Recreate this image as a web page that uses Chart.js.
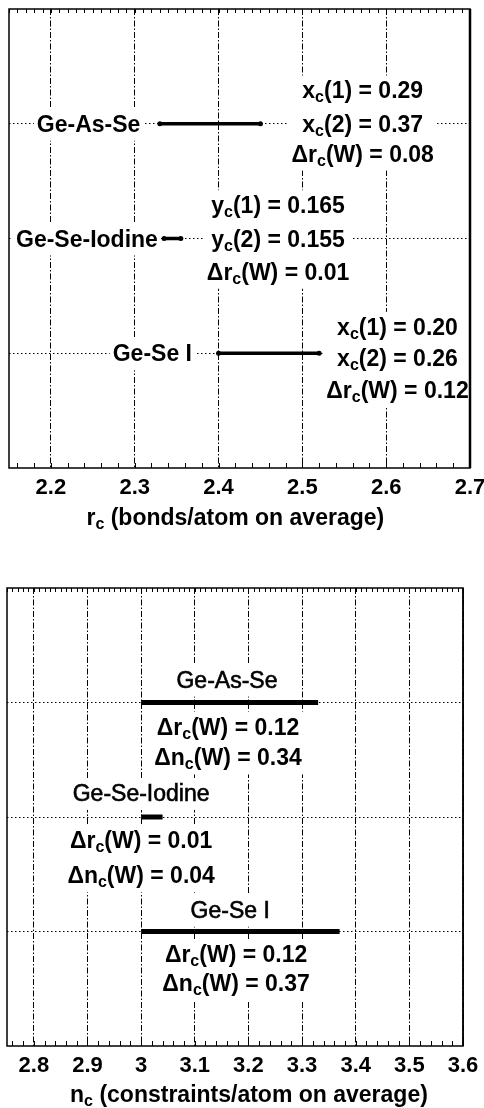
<!DOCTYPE html>
<html>
<head>
<meta charset="utf-8">
<script src="https://cdn.jsdelivr.net/npm/chart.js@4.4.1/dist/chart.umd.min.js"></script>
<style>
  body { margin: 0; background: #fff; }
  .panel { position: absolute; left: 0; width: 484px; height: 554px; }
</style>
</head>
<body>
<div class="panel" style="top:0"><canvas id="rcChart" width="484" height="554"></canvas></div>
<div class="panel" style="top:554px"><canvas id="ncChart" width="484" height="554"></canvas></div>
<script>
const FONT = "'Liberation Sans', Arial, Helvetica, sans-serif";

// glass systems, one row each (row 1 at the top)
const systems = ['Ge-As-Se', 'Ge-Se-Iodine', 'Ge-Se I'];
const rowPos = [1, 2, 3];

// rigidity window in r (bonds/atom)
const rcStart = [2.33, 2.335, 2.40];
const rcEnd = [2.45, 2.355, 2.52];
const rcTicks = [2.2, 2.3, 2.4, 2.5, 2.6, 2.7];

// same window in n (constraints/atom)
const ncStart = [3.00, 3.00, 3.00];
const ncEnd = [3.33, 3.04, 3.37];
const ncTicks = [2.8, 2.9, 3, 3.1, 3.2, 3.3, 3.4, 3.5, 3.6];

// text notes, anchored in data units (_c = subscript c)
const rcNotes = [
  { x: 2.245, row: 1, dy: [0], lines: ['Ge-As-Se'] },
  { x: 2.572, row: 1, dy: [-0.29, 0, 0.26], lines: ['x_c(1) = 0.29', 'x_c(2) = 0.37', 'Δr_c(W) = 0.08'] },
  { x: 2.243, row: 2, dy: [0], lines: ['Ge-Se-Iodine'] },
  { x: 2.471, row: 2, dy: [-0.29, 0, 0.29], lines: ['y_c(1) = 0.165', 'y_c(2) = 0.155', 'Δr_c(W) = 0.01'] },
  { x: 2.321, row: 3, dy: [0], lines: ['Ge-Se I'] },
  { x: 2.6135, row: 3, dy: [-0.23, 0.04, 0.32], lines: ['x_c(1) = 0.20', 'x_c(2) = 0.26', 'Δr_c(W) = 0.12'] }
];
const ncNotes = [
  { x: 3.160, row: 1, dy: [-0.2], lines: ['Ge-As-Se'], weight: 'normal' },
  { x: 3.162, row: 1, dy: [0.21, 0.48], lines: ['Δr_c(W) = 0.12', 'Δn_c(W) = 0.34'] },
  { x: 3.0, row: 2, dy: [-0.21], lines: ['Ge-Se-Iodine'], weight: 'normal' },
  { x: 3.0, row: 2, dy: [0.2, 0.51], lines: ['Δr_c(W) = 0.01', 'Δn_c(W) = 0.04'] },
  { x: 3.166, row: 3, dy: [-0.19], lines: ['Ge-Se I'], weight: 'normal' },
  { x: 3.177, row: 3, dy: [0.2, 0.45], lines: ['Δr_c(W) = 0.12', 'Δn_c(W) = 0.37'] }
];

// split "x_c(1)" into main / subscript pieces
function pieces(text) {
  return text.split(/_(\w)/).map((t, i) => ({ t, sub: i % 2 === 1 }));
}

function setFont(ctx, weight, sub) {
  ctx.font = weight + (sub ? ' 16px ' : ' 23px ') + FONT;
}

function richWidth(ctx, text, weight) {
  let w = 0;
  pieces(text).forEach(p => {
    setFont(ctx, weight, p.sub);
    w += ctx.measureText(p.t).width;
  });
  return w;
}

function drawRich(ctx, text, cx, cy, weight) {
  let x = cx - richWidth(ctx, text, weight) / 2;
  const base = cy + 8;
  pieces(text).forEach(p => {
    setFont(ctx, weight, p.sub);
    const y = p.sub ? base + 4 : base;
    ctx.fillText(p.t, x, y);
    // regular names look semi-bold in the original
    if (weight === 'normal') ctx.strokeText(p.t, x, y);
    x += ctx.measureText(p.t).width;
  });
}

const notesPlugin = {
  id: 'notes',
  afterDatasetsDraw(chart, args, opts) {
    const ctx = chart.ctx, xs = chart.scales.x, ys = chart.scales.y;
    ctx.save();
    ctx.textBaseline = 'alphabetic';
    ctx.strokeStyle = '#000';
    ctx.lineWidth = 0.6;
    opts.groups.forEach(g => {
      const weight = g.weight || 'bold';
      const cx = xs.getPixelForValue(g.x);
      const py = g.dy.map(d => ys.getPixelForValue(g.row + d));
      const w = Math.max(...g.lines.map(l => richWidth(ctx, l, weight)));
      // white box so grid lines stop at the text
      ctx.fillStyle = '#fff';
      ctx.fillRect(cx - w / 2 - 3, py[0] - 15, w + 6, py[py.length - 1] - py[0] + 32);
      ctx.fillStyle = '#000';
      g.lines.forEach((l, i) => drawRich(ctx, l, cx, py[i], weight));
    });
    ctx.restore();
  },
  afterDraw(chart, args, opts) {
    const ctx = chart.ctx, a = chart.chartArea, xs = chart.scales.x;
    ctx.save();
    ctx.strokeStyle = '#000';
    // minor ticks, inward
    ctx.lineWidth = 1;
    ctx.beginPath();
    for (let i = Math.ceil(xs.min * 100); i <= Math.floor(xs.max * 100); i++) {
      const px = Math.round(xs.getPixelForValue(i / 100)) + 0.5;
      ctx.moveTo(px, a.top); ctx.lineTo(px, a.top + 4);
      if (i % 2 === 0) { ctx.moveTo(px, a.bottom); ctx.lineTo(px, a.bottom - 5); }
    }
    ctx.stroke();
    // frame
    ctx.lineWidth = 1.5;
    ctx.strokeRect(a.left, a.top, a.right - a.left, a.bottom - a.top);
    ctx.lineWidth = opts.rightWidth;
    ctx.beginPath(); ctx.moveTo(a.right, a.top); ctx.lineTo(a.right, a.bottom); ctx.stroke();
    // axis title
    ctx.fillStyle = '#000';
    drawRich(ctx, opts.title, xs.getPixelForValue(opts.titleAt), a.bottom + opts.titleOffset, 'bold');
    ctx.restore();
  }
};

function makeChart(id, cfg) {
  return new Chart(document.getElementById(id), {
    type: 'scatter',
    data: {
      datasets: systems.map((name, i) => ({
        label: name,
        data: [{ x: cfg.start[i], y: rowPos[i] }, { x: cfg.end[i], y: rowPos[i] }],
        showLine: true,
        borderColor: '#000',
        backgroundColor: '#000',
        borderWidth: cfg.barWidth,
        borderCapStyle: cfg.cap,
        pointRadius: cfg.pointRadius,
        pointBorderWidth: 0
      }))
    },
    options: {
      responsive: false,
      animation: false,
      events: [],
      layout: { padding: cfg.padding },
      plugins: {
        legend: { display: false },
        tooltip: { enabled: false },
        notes: cfg.notes
      },
      scales: {
        x: {
          type: 'linear',
          min: cfg.min,
          max: cfg.max,
          afterBuildTicks: s => { s.ticks = cfg.ticks.map(v => ({ value: v })); },
          afterFit: s => { s.height = cfg.axisHeight; s.paddingLeft = 0; s.paddingRight = 0; },
          grid: { color: '#000', lineWidth: 1, drawTicks: false },
          border: { display: false, dash: [6, 2, 1.5, 2] },
          ticks: {
            color: '#000',
            padding: 7,
            maxRotation: 0,
            autoSkip: false,
            font: { family: FONT, size: 22, weight: 'bold' },
            callback: v => String(v)
          }
        },
        y: {
          type: 'linear',
          min: 0,
          max: 4,
          reverse: true,
          afterBuildTicks: s => { s.ticks = rowPos.map(v => ({ value: v })); },
          afterFit: s => { s.width = 0; },
          grid: { color: '#000', lineWidth: 1, drawTicks: false },
          border: { display: false, dash: [1.5, 2.5] },
          ticks: { display: false }
        }
      }
    },
    plugins: [notesPlugin]
  });
}

makeChart('rcChart', {
  start: rcStart, end: rcEnd, ticks: rcTicks, min: 2.15, max: 2.7,
  barWidth: 3.5, cap: 'round', pointRadius: 2.5,
  padding: { left: 9, right: 14, top: 9, bottom: 0 },
  axisHeight: 86,
  notes: { groups: rcNotes, title: 'r_c (bonds/atom on average)', titleAt: 2.42, titleOffset: 49, rightWidth: 2.5 }
});

makeChart('ncChart', {
  start: ncStart, end: ncEnd, ticks: ncTicks, min: 2.75, max: 3.6,
  barWidth: 5, cap: 'butt', pointRadius: 0,
  padding: { left: 7, right: 21, top: 34, bottom: 0 },
  axisHeight: 62,
  notes: { groups: ncNotes, title: 'n_c (constraints/atom on average)', titleAt: 3.201, titleOffset: 48, rightWidth: 1.5 }
});
</script>
</body>
</html>
